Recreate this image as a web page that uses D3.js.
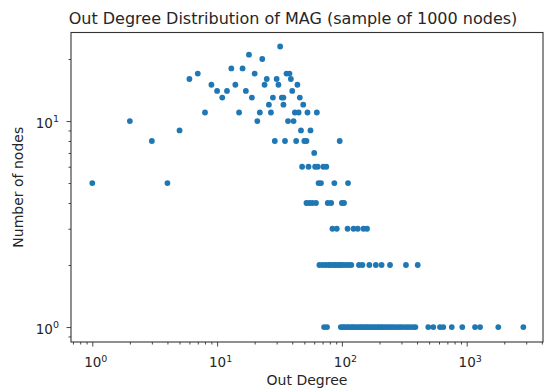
<!DOCTYPE html>
<html><head><meta charset="utf-8">
<script src="https://cdn.jsdelivr.net/npm/d3@7"></script>
<style>body{margin:0;background:#fff;} text{font-family:"DejaVu Sans",sans-serif;fill:#262626;}</style>
</head><body><svg id="c" width="547" height="390"></svg>
<script>
// Degree values observed for each node count
const counts = [1, 2, 3, 4, 5, 6, 7, 8, 9, 10, 11, 12, 13, 14, 15, 16, 17, 18, 20, 21, 23];
const degreesByCount = [
  [72, 76, 98, 102, 105, 110, 113, 118, 122, 126, 131, 137, 141, 146, 152, 158, 163, 170, 176, 183, 191, 197, 205, 212, 221, 230, 240, 251, 262, 275, 289, 301, 318, 335, 352, 372, 388, 492, 540, 611, 649, 759, 922, 1166, 1280, 1791, 2843],
  [66, 70, 74, 78, 81, 85, 89, 93, 97, 101, 107, 113, 119, 137, 146, 166, 187, 208, 243, 326, 405],
  [84, 91, 111, 124, 134, 149, 159],
  [52, 55, 58, 62, 77, 82, 100, 104],
  [1, 4, 65, 68, 87, 112],
  [48, 54, 61, 64, 71, 75],
  [60],
  [3, 29, 35, 43, 50, 52, 96],
  [5, 47, 56],
  [2, 21, 37, 41],
  [8, 15, 22, 27, 42, 45, 53, 63],
  [26, 34, 49],
  [11, 19, 28, 33, 34, 46],
  [10, 12, 17, 40],
  [9, 14, 24, 31, 44],
  [6, 25, 30, 39],
  [7, 20, 36, 38],
  [13, 16],
  [23],
  [18],
  [32]
];
const xMajorTicks = [1, 10, 100, 1000];
const yMajorTicks = [1, 10];
const titleText = "Out Degree Distribution of MAG (sample of 1000 nodes)";
const xLabel = "Out Degree";
const yLabel = "Number of nodes";

const points = [];
counts.forEach((c, i) => degreesByCount[i].forEach(d => points.push({d, c})));

const L = 71, R = 543, T = 32.5, B = 342;
const svg = d3.select("#c");
const x = d3.scaleLog().domain([0.675, 4087]).range([L, R]);
const y = d3.scaleLog().domain([0.846, 26.9]).range([B, T]);

// minor ticks
const xMinor = [];
for (const base of [0.1, 1, 10, 100, 1000]) for (let k = 2; k <= 9; k++) {
  const v = base * k; if (v >= x.domain()[0] && v <= x.domain()[1]) xMinor.push(v);
}
const yMinor = [];
for (const base of [0.1, 1, 10]) for (let k = 2; k <= 9; k++) {
  const v = base * k; if (v >= y.domain()[0] && v <= y.domain()[1]) yMinor.push(v);
}

const sup = (g, v) => {
  const e = Math.round(Math.log10(v));
  g.text("").append("tspan").text("10");
  g.append("tspan").attr("dy", "-0.55em").attr("font-size", "9.5px").text(e);
};

const gx = svg.append("g").attr("transform", `translate(0,${B})`);
gx.call(d3.axisBottom(x).tickValues(xMinor).tickSize(2.5).tickFormat(""));
gx.append("g").call(d3.axisBottom(x).tickValues(xMajorTicks).tickSize(4.5).tickFormat(""))
  .selectAll(".tick").append("text").attr("x", 3).attr("y", 25).attr("text-anchor", "middle").attr("font-size", "13.5px")
  .each(function(v){ sup(d3.select(this), v); });
gx.selectAll(".domain").remove();

const gy = svg.append("g").attr("transform", `translate(${L},0)`);
gy.call(d3.axisLeft(y).tickValues(yMinor).tickSize(2.5).tickFormat(""));
gy.append("g").call(d3.axisLeft(y).tickValues(yMajorTicks).tickSize(4.5).tickFormat(""))
  .selectAll(".tick").append("text").attr("x", -12).attr("dy", "0.45em").attr("text-anchor", "end").attr("font-size", "13.5px")
  .each(function(v){ sup(d3.select(this), v); });
gy.selectAll(".domain").remove();
svg.selectAll(".tick line").attr("stroke", "#333").attr("stroke-width", 0.9);

svg.append("rect").attr("x", L).attr("y", T).attr("width", R - L).attr("height", B - T)
  .attr("fill", "none").attr("stroke", "#333").attr("stroke-width", 1.1);

svg.append("g").selectAll("circle").data(points).join("circle")
  .attr("cx", p => x(p.d)).attr("cy", p => y(p.c)).attr("r", 2.9).attr("fill", "#1f77b4");

svg.append("text").attr("x", 293).attr("y", 24).attr("text-anchor", "middle").attr("font-size", "16px").text(titleText);
svg.append("text").attr("x", (L + R) / 2).attr("y", 385).attr("text-anchor", "middle").attr("font-size", "14px").text(xLabel);
svg.append("text").attr("transform", `translate(23,${(T + B) / 2}) rotate(-90)`).attr("text-anchor", "middle").attr("font-size", "14px").text(yLabel);
</script></body></html>
